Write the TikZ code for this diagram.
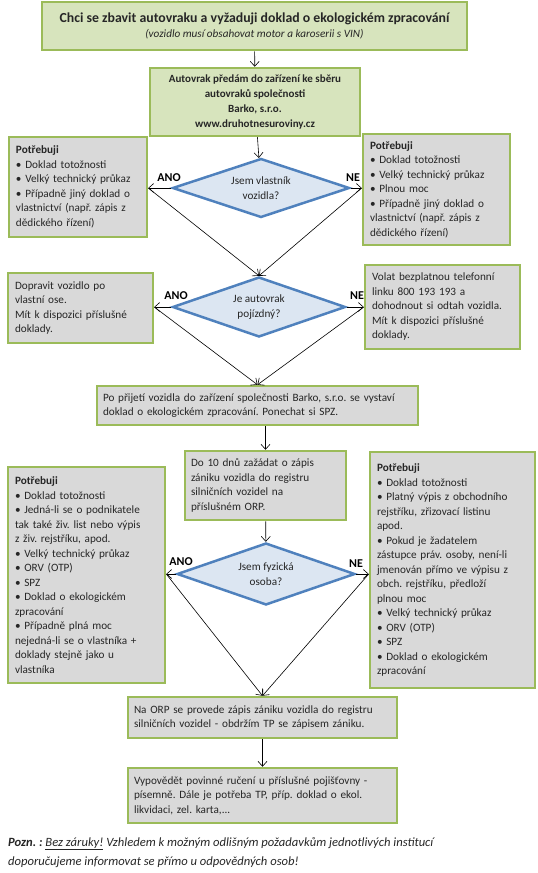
\documentclass[tikz,border=0pt]{standalone}
\usepackage{fontspec}
\setmainfont{Carlito}
\frenchspacing
\usetikzlibrary{shapes.geometric,arrows.meta,positioning}
\definecolor{okraj}{HTML}{9BBB59}
\definecolor{zelena}{HTML}{D7E4BD}
\definecolor{seda}{HTML}{D9D9D9}
\definecolor{modra}{HTML}{4F81BD}
\definecolor{svmodra}{HTML}{DCE6F2}
\definecolor{pismo}{HTML}{262626}
\tikzset{
  box/.style={draw=okraj,line width=2.5pt,inner sep=0pt,align=left,text=pismo,
    font=\fontsize{11.2}{14.5}\selectfont},
  zelbox/.style={box,fill=zelena,align=center},
  sedbox/.style={box,fill=seda},
  otazka/.style={diamond,aspect=3,draw=modra,fill=svmodra,line width=2.5pt,
    inner sep=0pt,align=center,text=pismo,font=\fontsize{11.2}{15}\selectfont},
  sipka/.style={-{Straight Barb[length=5pt,width=9pt]},line width=0.6pt},
  odpoved/.style={font=\fontsize{12}{12}\selectfont\bfseries,inner sep=0pt}
}
\begin{document}
\begin{tikzpicture}[x=1pt,y=-1pt]
\useasboundingbox (0,0) rectangle (538,873);
% zacatek
\node[zelbox,minimum width=425pt,minimum height=48pt] (start) at (254.5,26)
  {{\fontsize{13.8}{18}\selectfont\bfseries Chci se zbavit autovraku a vyžaduji doklad o ekologickém zpracování}\\
   {\itshape (vozidlo musí obsahovat motor a karoserii s VIN)}};
\node[zelbox,minimum width=210pt,minimum height=68pt,font=\fontsize{11}{15}\selectfont\bfseries] (barko) at (255,102)
  {Autovrak předám do zařízení ke sběru\\autovraků společnosti\\Barko, s.r.o.\\www.druhotnesuroviny.cz};
% vlastnik
\node[otazka,minimum width=177pt,minimum height=59pt] (vlastnik) at (261,188) {Jsem vlastník\\vozidla?};
\node[sedbox,minimum width=138pt,minimum height=100pt,text width=124pt] (vlano) at (78,187)
  {\textbf{Potřebuji}\\• Doklad totožnosti\\• Velký technický průkaz\\• Případně jiný doklad o\\vlastnictví (např. zápis z\\dědického řízení)};
\node[sedbox,minimum width=147pt,minimum height=111pt,text width=133pt] (vlne) at (436.5,189.5)
  {\textbf{Potřebuji}\\• Doklad totožnosti\\• Velký technický průkaz\\• Plnou moc\\• Případně jiný doklad o\\vlastnictví (např. zápis z\\dědického řízení)};
% pojizdny
\node[otazka,minimum width=173pt,minimum height=60pt] (pojizdny) at (259,307) {Je autovrak\\pojízdný?};
\node[sedbox,minimum width=145pt,minimum height=70pt,text width=131pt] (pojano) at (80.5,308)
  {Dopravit vozidlo po\\vlastní ose.\\Mít k dispozici příslušné\\doklady.};
\node[sedbox,minimum width=155pt,minimum height=84pt,text width=141pt] (pojne) at (442.5,307)
  {Volat bezplatnou telefonní\\linku 800 193 193 a\\dohodnout si odtah vozidla.\\Mít k dispozici příslušné\\doklady.};
\node[sedbox,minimum width=321pt,minimum height=39pt,text width=309pt] (prijeti) at (257.5,405.5)
  {Po přijetí vozidla do zařízení společnosti Barko, s.r.o. se vystaví\\doklad o ekologickém zpracování. Ponechat si SPZ.};
\node[sedbox,minimum width=161pt,minimum height=69pt,text width=149pt] (zadost) at (265.5,485.5)
  {Do 10 dnů zažádat o zápis\\zániku vozidla do registru\\silničních vozidel na\\příslušném ORP.};
% fyzicka osoba
\node[otazka,minimum width=178pt,minimum height=62pt] (osoba) at (266,574) {Jsem fyzická\\osoba?};
\node[sedbox,minimum width=157pt,minimum height=216pt,text width=143pt] (osano) at (86.5,575)
  {\textbf{Potřebuji}\\• Doklad totožnosti\\• Jedná-li se o podnikatele\\tak také živ. list nebo výpis\\z živ. rejstříku, apod.\\• Velký technický průkaz\\• ORV (OTP)\\• SPZ\\• Doklad o ekologickém\\zpracování\\• Případně plná moc\\nejedná-li se o vlastníka +\\doklady stejně jako u\\vlastníka};
\node[sedbox,minimum width=165pt,minimum height=236pt,text width=151pt] (osne) at (452.5,570)
  {\textbf{Potřebuji}\\• Doklad totožnosti\\• Platný výpis z obchodního\\rejstříku, zřizovací listinu\\apod.\\• Pokud je žadatelem\\zástupce práv. osoby, není-li\\jmenován přímo ve výpisu z\\obch. rejstříku, předloží\\plnou moc\\• Velký technický průkaz\\• ORV (OTP)\\• SPZ\\• Doklad o ekologickém\\zpracování};
\node[sedbox,minimum width=269pt,minimum height=41pt,text width=257pt] (zapis) at (262.5,717.5)
  {Na ORP se provede zápis zániku vozidla do registru\\silničních vozidel - obdržím TP se zápisem zániku.};
\node[sedbox,minimum width=269pt,minimum height=55pt,text width=257pt] (pojistka) at (262.5,795.5)
  {Vypovědět povinné ručení u příslušné pojišťovny -\\písemně. Dále je potřeba TP, příp. doklad o ekol.\\likvidaci, zel. karta,...};
% ANO / NE
\node[odpoved] (ano1) at (169,178) {ANO};
\node[odpoved] (ne1) at (353,178) {NE};
\node[odpoved] (ano2) at (176,296) {ANO};
\node[odpoved] (ne2) at (357,296) {NE};
\node[odpoved] (ano3) at (181,562) {ANO};
\node[odpoved] (ne3) at (356,564) {NE};
% spojnice
\coordinate (k1) at (vlastnik.west -| vlano.east);
\coordinate (k2) at (vlastnik.east -| vlne.west);
\coordinate (k3) at (pojizdny.west -| pojano.east);
\coordinate (k4) at (pojizdny.east -| pojne.west);
\coordinate (k5) at (osoba.west -| osano.east);
\coordinate (k6) at (osoba.east -| osne.west);
\draw[sipka] (start) -- (barko);
\draw[sipka] (barko) -- (vlastnik);
\draw[sipka] (vlastnik.west) -- (k1);
\draw[sipka] (vlastnik.east) -- (k2);
\draw[sipka] (k1) -- (pojizdny.north);
\draw[sipka] (k2) -- (pojizdny.north);
\draw[sipka] (pojizdny.west) -- (k3);
\draw[sipka] (pojizdny.east) -- (k4);
\draw[sipka] (k3) -- (prijeti.north);
\draw[sipka] (k4) -- (prijeti.north);
\draw[sipka] (prijeti.south -| zadost.north) -- (zadost.north);
\draw[sipka] (zadost) -- (osoba);
\draw[sipka] (osoba.west) -- (k5);
\draw[sipka] (osoba.east) -- (k6);
\draw[sipka] (k5) -- (zapis.north);
\draw[sipka] (k6) -- (zapis.north);
\draw[sipka] (zapis) -- (pojistka);
% poznamka
\node[anchor=base west,inner sep=0pt,text=pismo,font=\fontsize{12.6}{14}\selectfont\itshape] (pozn1) at (8,846)
  {\textbf{Pozn. :} \underline{Bez záruky!} Vzhledem k možným odlišným požadavkům jednotlivých institucí};
\node[anchor=base west,inner sep=0pt,text=pismo,font=\fontsize{12.6}{14}\selectfont\itshape] (pozn2) at (8,865)
  {doporučujeme informovat se přímo u odpovědných osob!};
\end{tikzpicture}
\end{document}
